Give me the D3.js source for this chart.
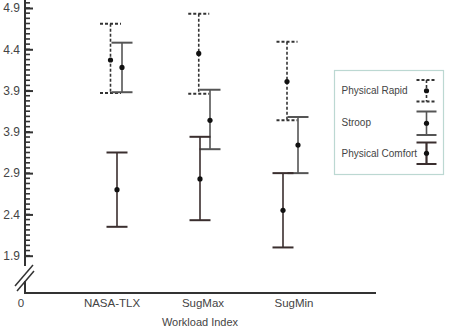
<!DOCTYPE html>
<html>
<head>
<meta charset="utf-8">
<script src="https://cdn.jsdelivr.net/npm/d3@7"></script>
<style>
	body { margin: 0; background: #fff; }
	svg { display: block; font-family: "Liberation Sans", Arial, sans-serif; }
</style>
</head>
<body>
<div id="chart"></div>
<script>
// categories on the x axis (the first one is the origin label)
const categories = ['0', 'NASA-TLX', 'SugMax', 'SugMin'];
const groups = ['NASA-TLX', 'SugMax', 'SugMin'];
const series = ['Physical Rapid', 'Stroop', 'Physical Comfort'];

// mean, lower and upper end of each error bar, per series, in group order
const rapid_mean  = [4.27, 4.35, 4.01];
const rapid_low   = [3.87, 3.86, 3.54];
const rapid_high  = [4.71, 4.83, 4.49];
const stroop_mean = [4.18, 3.54, 3.24];
const stroop_low  = [3.88, 3.19, 2.90];
const stroop_high = [4.48, 3.91, 3.58];
const comfort_mean = [2.70, 2.83, 2.45];
const comfort_low  = [2.25, 2.33, 2.00];
const comfort_high = [3.15, 3.34, 2.90];

// tick values and the labels printed on them (as printed in the original)
const y_ticks = [4.9, 4.4, 3.9, 3.4, 2.9, 2.4, 1.9];
const y_tick_labels = ['4.9', '4.4', '3.9', '3.9', '2.9', '2.4', '1.9'];

const data = [
	{name: 'Physical Rapid', mean: rapid_mean, low: rapid_low, high: rapid_high},
	{name: 'Stroop', mean: stroop_mean, low: stroop_low, high: stroop_high},
	{name: 'Physical Comfort', mean: comfort_mean, low: comfort_low, high: comfort_high},
];

const width = 449, height = 331;
const ink = '#333';
const text_color = '#444';

const svg = d3.select('#chart').append('svg')
	.attr('width', width)
	.attr('height', height)

const y = d3.scaleLinear().domain([1.9, 4.9]).range([255.7, 8]);
const x = d3.scalePoint().domain(categories).range([21, 294]);

// each series sits a bit off its category, as in the original
const series_range = {
	'Physical Rapid': [110.5, 287],
	'Stroop': [122, 298],
	'Physical Comfort': [117, 283],
};
const dash = {
	'Physical Rapid': '3,2',
	'Stroop': null,
	'Physical Comfort': null,
};
const bar_color = {
	'Physical Rapid': '#333',
	'Stroop': '#555',
	'Physical Comfort': '#3a2e2e',
};
const cap_half = 10.5;

const axis_x = 25, axis_y = 293;

// axis lines with the break
svg.append('line')
	.attr('x1', axis_x).attr('x2', axis_x)
	.attr('y1', 0).attr('y2', 266)
	.attr('stroke', ink).attr('stroke-width', 2)
svg.append('line')
	.attr('x1', axis_x).attr('x2', axis_x)
	.attr('y1', 281).attr('y2', axis_y)
	.attr('stroke', ink).attr('stroke-width', 2)
svg.append('line')
	.attr('x1', axis_x - 1).attr('x2', 376)
	.attr('y1', axis_y).attr('y2', axis_y)
	.attr('stroke', ink).attr('stroke-width', 2)
svg.append('line')
	.attr('x1', 15).attr('y1', 286).attr('x2', 33).attr('y2', 265)
	.attr('stroke', ink).attr('stroke-width', 1.5)
svg.append('line')
	.attr('x1', 17).attr('y1', 291).attr('x2', 34).attr('y2', 271)
	.attr('stroke', ink).attr('stroke-width', 1.5)

// minor ticks
const minor_ticks = d3.range(1.9, 4.97, 0.0625);
svg.append('g').selectAll('line')
	.data(minor_ticks)
	.join('line')
	.attr('x1', axis_x)
	.attr('x2', axis_x + 5)
	.attr('y1', d => y(d))
	.attr('y2', d => y(d))
	.attr('stroke', ink)
	.attr('stroke-width', 1.6)

// major ticks
svg.append('g')
	.attr('transform', `translate(${axis_x},0)`)
	.call(d3.axisLeft(y)
		.tickValues(y_ticks)
		.tickSizeInner(-8)
		.tickSizeOuter(0)
		.tickPadding(5)
		.tickFormat((d, i) => y_tick_labels[i]))
	.call(g => g.select('.domain').remove())
	.call(g => g.selectAll('line').attr('stroke', ink).attr('stroke-width', 2))
	.call(g => g.selectAll('text')
		.attr('fill', text_color)
		.style('font-size', '12px')
		.style('font-family', '"Liberation Sans", Arial, sans-serif'))

// category labels
svg.append('g').selectAll('text')
	.data(categories)
	.join('text')
	.attr('x', d => x(d))
	.attr('y', 307)
	.attr('text-anchor', 'middle')
	.attr('fill', text_color)
	.style('font-size', '11.5px')
	.text(d => d)

svg.append('text')
	.attr('x', 200)
	.attr('y', 326)
	.attr('text-anchor', 'middle')
	.attr('fill', text_color)
	.style('font-size', '11px')
	.text('Workload Index')

// error bars
function draw_bar(g, cx, low, high, mean, name, half) {
	var color = bar_color[name];
	g.append('line')
		.attr('x1', cx).attr('x2', cx)
		.attr('y1', y(high)).attr('y2', y(low))
		.attr('stroke', color).attr('stroke-width', 1.6)
		.attr('stroke-dasharray', dash[name])
	;[high, low].forEach(v => {
		g.append('line')
			.attr('x1', cx - half).attr('x2', cx + half)
			.attr('y1', y(v)).attr('y2', y(v))
			.attr('stroke', color).attr('stroke-width', 2)
			.attr('stroke-dasharray', dash[name])
	})
	g.append('circle')
		.attr('cx', cx).attr('cy', y(mean))
		.attr('r', 2.6)
		.attr('fill', '#111')
}

data.forEach(s => {
	var sx = d3.scalePoint().domain(groups).range(series_range[s.name]);
	var g = svg.append('g').attr('class', 'series');
	groups.forEach((grp, i) => {
		draw_bar(g, sx(grp), s.low[i], s.high[i], s.mean[i], s.name, cap_half);
	})
})

// legend
var legend = svg.append('g')
svg.insert('rect', 'g.series')
	.attr('x', 334.5).attr('y', 70.5)
	.attr('width', 109).attr('height', 104)
	.attr('fill', '#fff')
	.attr('stroke', '#bcd8d2')
	.attr('stroke-width', 1.2)

const legend_rows = [
	{name: 'Physical Rapid', text_y: 94, top: 80, bottom: 101.5},
	{name: 'Stroop', text_y: 126, top: 111.5, bottom: 135},
	{name: 'Physical Comfort', text_y: 157, top: 142.5, bottom: 164},
];
legend_rows.forEach(r => {
	legend.append('text')
		.attr('x', 341.5)
		.attr('y', r.text_y)
		.attr('fill', text_color)
		.style('font-size', '10px')
		.text(r.name)
	var color = bar_color[r.name];
	var cx = 426.5;
	legend.append('line')
		.attr('x1', cx).attr('x2', cx)
		.attr('y1', r.top).attr('y2', r.bottom)
		.attr('stroke', color).attr('stroke-width', r.name == 'Physical Comfort' ? 2.2 : 1.6)
		.attr('stroke-dasharray', dash[r.name])
	;[r.top, r.bottom].forEach(v => {
		legend.append('line')
			.attr('x1', cx - 10).attr('x2', cx + 10)
			.attr('y1', v).attr('y2', v)
			.attr('stroke', color).attr('stroke-width', 2)
			.attr('stroke-dasharray', dash[r.name])
	})
	legend.append('circle')
		.attr('cx', cx).attr('cy', (r.top + r.bottom) / 2)
		.attr('r', 2.6)
		.attr('fill', '#111')
})
</script>
</body>
</html>
